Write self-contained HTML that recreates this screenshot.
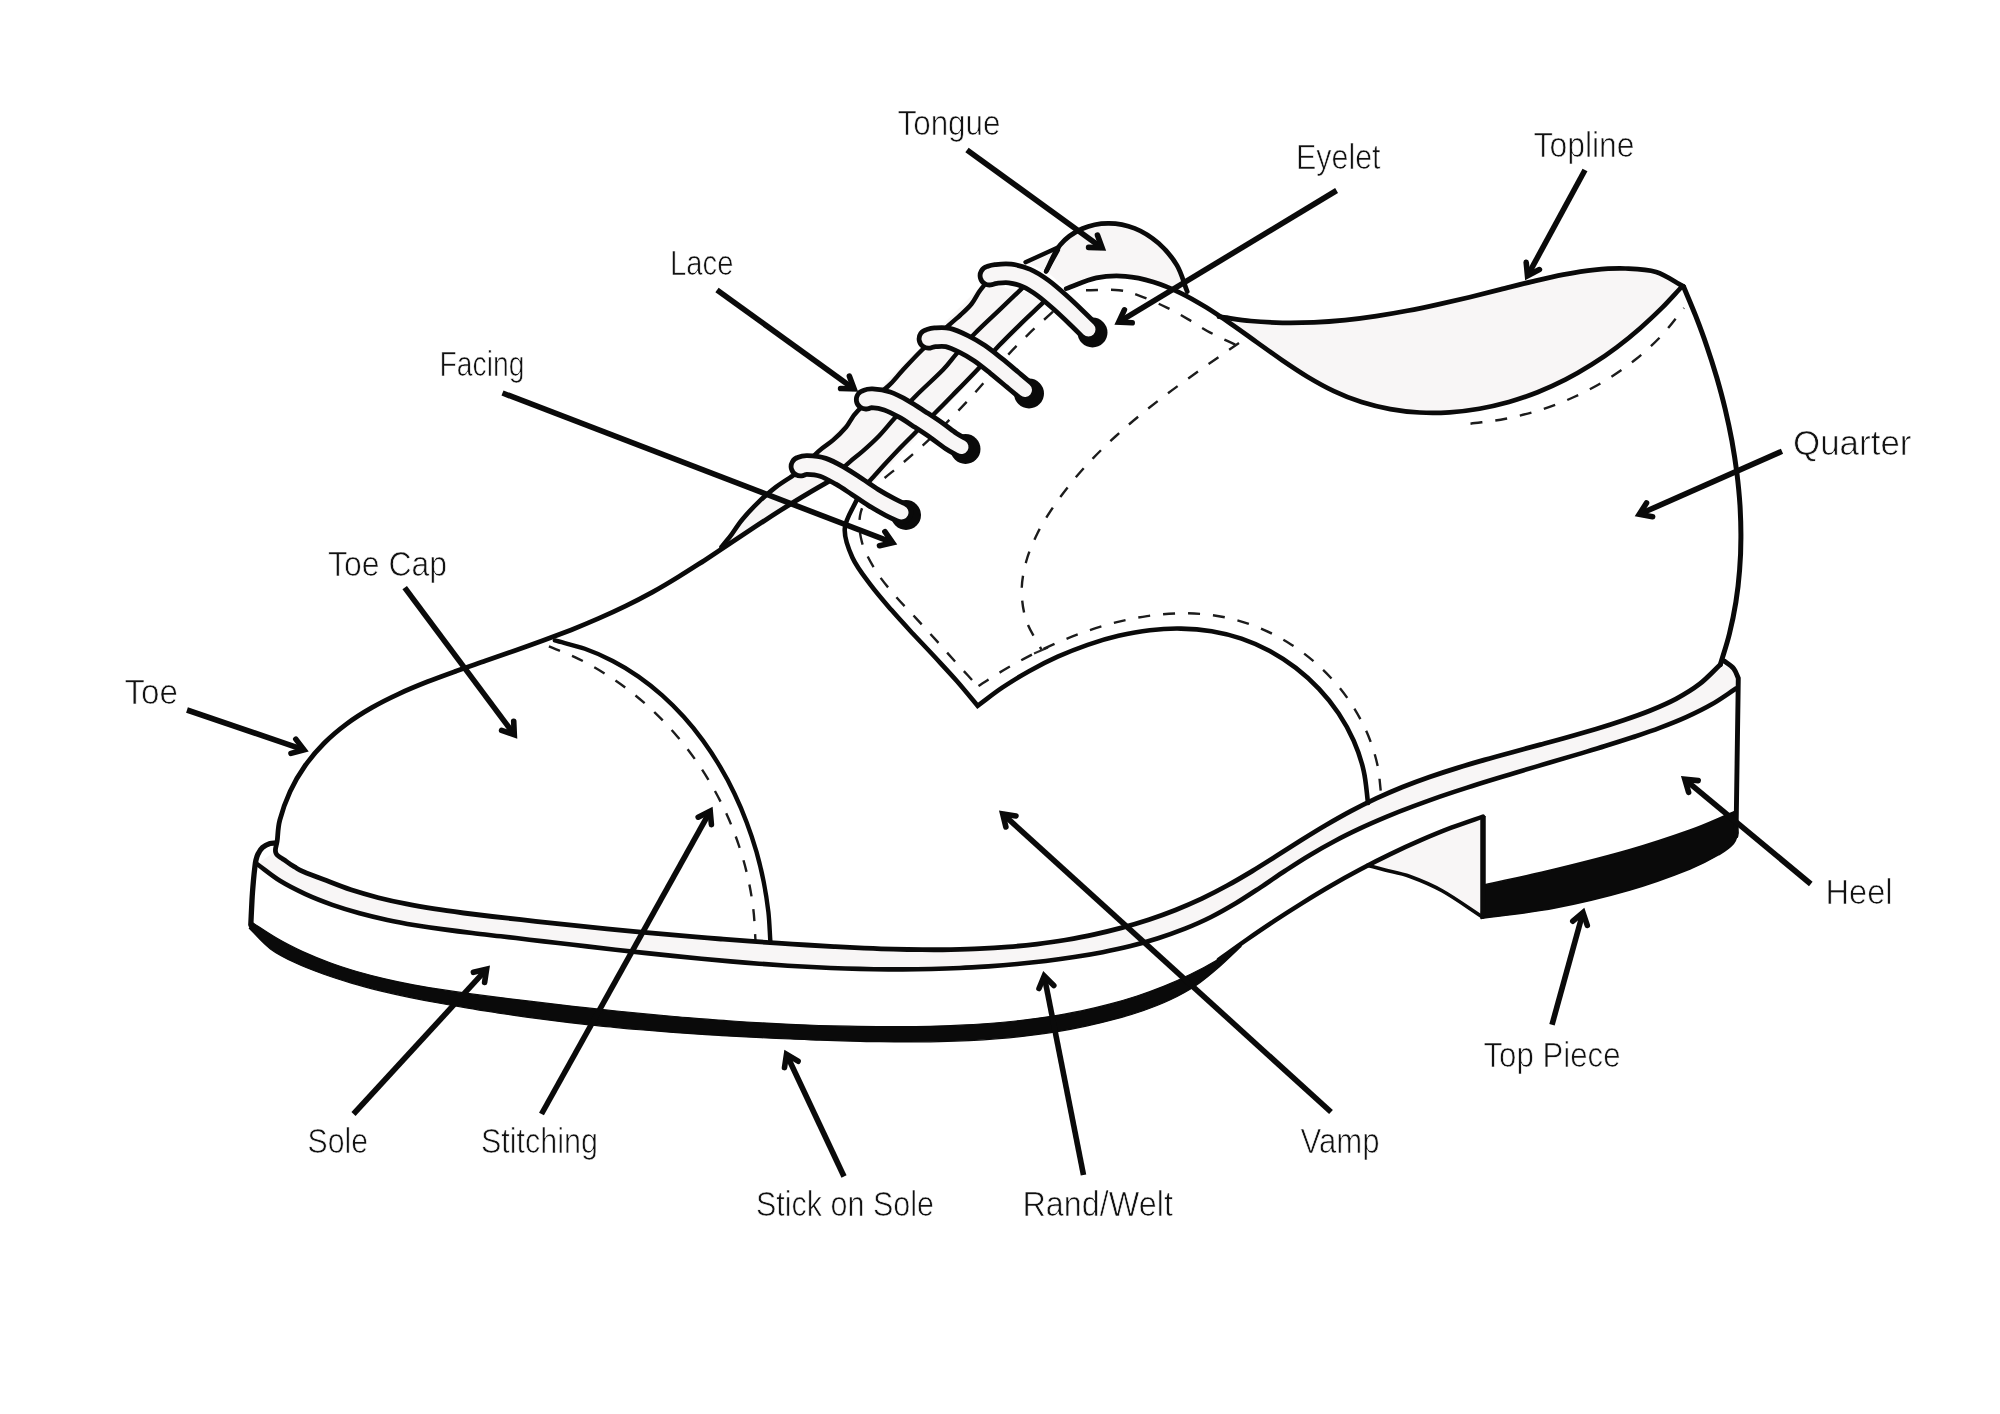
<!DOCTYPE html>
<html lang="en"><head><meta charset="utf-8"><title>Shoe anatomy</title>
<style>
html,body{margin:0;padding:0;background:#fff}
body{width:2000px;height:1414px;overflow:hidden}
svg{display:block}
text{font-family:"Liberation Sans",sans-serif;font-size:34.5px;fill:#111;stroke:#fff;stroke-width:0.7px;paint-order:fill stroke}
</style></head><body>
<svg width="2000" height="1414" viewBox="0 0 2000 1414">
<rect width="2000" height="1414" fill="#fff"/>
<path d="M1219 316.7C1229.6 318.1 1240.3 320 1250.8 321C1261.4 322 1271.9 322.5 1282.4 322.8C1292.9 323 1303.4 322.8 1313.8 322.4C1324.3 321.9 1334.7 321.1 1345.1 320.1C1355.5 319 1365.8 317.7 1376.2 316.1C1386.6 314.6 1396.9 312.8 1407.3 310.8C1417.7 308.9 1428 306.7 1438.4 304.4C1448.7 302.1 1459.1 299.7 1469.5 297.2C1479.9 294.7 1490.3 292.1 1500.7 289.4C1511.1 286.8 1521.5 284 1532 281.6C1542.4 279.1 1552.9 276.5 1563.3 274.6C1573.7 272.6 1584.1 270.8 1594.5 269.8C1604.9 268.8 1615.2 268.1 1625.5 268.5C1635.8 268.9 1646.5 269 1656.1 272C1665.8 275 1674.4 281.7 1683.5 286.5L1682.5 286L1662.2 307.7L1640.2 328.2L1616.7 347.3L1591.7 364.6L1565.3 379.7L1537.6 392.3L1508.9 402L1479.4 408.7L1449.6 412.3L1419.7 412.5L1390.3 409.1L1361.5 402.1L1333.9 391.1L1307.4 376.7L1281.8 360L1256.6 342.1L1231.5 324.2Z" fill="#f8f6f6" stroke="none" stroke-width="0" />
<path d="M1046.4 271C1051 262.2 1054.3 251.7 1060.3 244.7C1066.2 237.6 1074.1 232.3 1082.1 228.7C1090 225.2 1099.3 223.3 1108.1 223.3C1116.9 223.2 1126.3 225 1134.7 228.4C1143.1 231.7 1151.5 237.2 1158.6 243.3C1165.6 249.5 1172.2 257.3 1177 265.4C1181.7 273.4 1183.8 282.8 1187.2 291.5L1163 284.2L1141 277.6L1113.5 274.8L1086 279.8L1066.2 288.6Z" fill="#f8f6f6" stroke="none" stroke-width="0" />
<path d="M1025.5 262.2L1058.5 247.3L1046 271Z" fill="#f8f6f6" stroke="none" stroke-width="0" />
<path d="M984 283L1050 298L870 486L792 477Z" fill="#f8f6f6" stroke="none" stroke-width="0" />
<path d="M721.5 547L726 541.5L731.5 534.6L742.5 519.2L759 501.6L775.5 487.3L792 476.3L833 479L825 484L808.5 495L792 504.9L770 517L753.5 526.9L737 537.9L720.5 547.8Z" fill="#f8f6f6" stroke="none" stroke-width="0" />
<path d="M275 851.5C283 856.8 290.7 862.6 298.9 867.3C307.1 872 315.7 876.1 324.4 879.8C333.1 883.6 342 886.8 351 889.8C360 892.7 369.2 895.3 378.4 897.7C387.6 900 397 902.1 406.4 903.9C415.8 905.8 425.3 907.4 434.9 908.9C444.4 910.4 454 911.7 463.6 913C473.2 914.2 482.8 915.3 492.4 916.5C502 917.6 511.6 918.7 521.2 919.7C530.8 920.8 540.3 921.8 549.9 922.9C559.4 923.9 569 924.9 578.5 925.9C588 926.9 597.5 927.9 607 928.8C616.5 929.8 626 930.7 635.5 931.6C645 932.5 654.5 933.4 664 934.2C673.5 935.1 683 935.9 692.5 936.7C702 937.5 711.4 938.3 720.9 939C730.4 939.8 739.9 940.5 749.5 941.2C759 941.9 768.5 942.6 778 943.2C787.6 943.9 797.1 944.5 806.7 945C816.2 945.6 825.8 946.2 835.4 946.7C845 947.2 854.6 947.7 864.2 948.1C873.8 948.5 883.5 948.9 893.1 949.1C902.7 949.4 912.4 949.6 922 949.7C931.6 949.8 941.3 949.8 950.9 949.6C960.5 949.4 970.1 949.2 979.7 948.7C989.3 948.3 998.9 947.7 1008.4 946.9C1018 946.2 1027.5 945.2 1037 944.1C1046.5 942.9 1055.9 941.6 1065.4 940C1074.8 938.4 1084.2 936.7 1093.5 934.6C1102.8 932.6 1112.1 930.4 1121.3 927.9C1130.5 925.4 1139.7 922.6 1148.7 919.7C1157.7 916.7 1166.7 913.4 1175.6 909.9C1184.4 906.4 1193.2 902.6 1201.8 898.6C1210.4 894.5 1218.9 890.1 1227.3 885.5C1235.7 881 1244 876 1252.2 871.1C1260.4 866.1 1268.6 860.9 1276.7 855.8C1284.9 850.6 1293 845.4 1301.1 840.3C1309.3 835.2 1317.5 830.1 1325.7 825.3C1334 820.5 1342.3 815.7 1350.8 811.2C1359.2 806.7 1367.7 802.4 1376.3 798.4C1385 794.4 1393.7 790.6 1402.6 787C1411.5 783.5 1420.4 780.2 1429.5 777C1438.5 773.9 1447.7 770.9 1456.8 768.1C1466 765.2 1475.3 762.5 1484.5 759.9C1493.8 757.2 1503.1 754.7 1512.4 752.2C1521.7 749.6 1531.1 747.1 1540.4 744.6C1549.7 742.1 1559.1 739.6 1568.3 737C1577.6 734.4 1586.9 731.7 1596.1 729C1605.3 726.2 1614.4 723.3 1623.5 720.2C1632.5 717.2 1641.6 714.1 1650.4 710.5C1659.1 706.9 1667.8 703.2 1676.1 698.8C1684.3 694.4 1692.3 689.6 1699.7 683.9C1707.1 678.2 1713.5 671 1720.4 664.5L1733 669L1738 679L1736 688.5L1711.8 704.3L1686.2 717.2L1659.7 727.9L1632.6 737.3L1605.1 746L1577.6 754.4L1549.9 762.5L1522.3 770.7L1494.7 779L1467.2 787.6L1439.9 796.6L1413 806.4L1386.3 816.9L1360.1 828.4L1334.4 841.2L1309.3 855.4L1284.8 871L1260.6 887.3L1236.2 903L1211.1 917L1185 928.7L1158.1 938.2L1130.6 946L1102.6 952.2L1074.2 957.1L1045.7 961L1017.2 964L988.6 966.4L960 968L931.3 969L902.7 969.4L874 969.2L845.3 968.5L816.6 967.3L787.8 965.7L759.1 963.7L730.4 961.4L701.6 958.8L672.9 955.9L644.2 952.9L615.5 949.7L586.8 946.4L558.1 943L529.4 939.7L500.8 936.3L472.2 933L443.7 929.4L415.4 925.2L387.3 919.9L359.6 913.2L332.3 904.8L305.5 894.1L280 880.8L257 864Z" fill="#f8f6f6" stroke="none" stroke-width="0" />
<path d="M1367.6 865.4L1483 816.5L1483 917L1482.5 917L1442.5 891L1410 876.5L1385 870L1367.6 865.4Z" fill="#f8f6f6" stroke="none" stroke-width="0" />
<path d="M252.3 922.5C260.5 927.8 268.6 933.5 277 938.3C285.4 943.2 294 947.5 302.7 951.6C311.5 955.6 320.4 959.2 329.4 962.5C338.4 965.9 347.6 968.8 356.8 971.5C366.1 974.2 375.4 976.6 384.9 978.8C394.3 981 403.8 983 413.4 984.8C423 986.6 432.6 988.2 442.3 989.7C452 991.2 461.7 992.6 471.4 993.9C481.1 995.2 490.8 996.4 500.5 997.6C510.2 998.8 519.9 1000 529.6 1001.2C539.3 1002.4 549 1003.5 558.6 1004.6C568.3 1005.8 578 1006.9 587.6 1007.9C597.2 1009 606.9 1010 616.5 1011C626.2 1012 635.8 1013 645.4 1013.9C655.1 1014.8 664.7 1015.7 674.3 1016.5C683.9 1017.4 693.6 1018.1 703.2 1018.9C712.8 1019.6 722.5 1020.4 732.1 1021C741.7 1021.7 751.4 1022.3 761 1022.8C770.7 1023.4 780.3 1023.9 790 1024.3C799.7 1024.7 809.4 1025.1 819 1025.5C828.7 1025.8 838.4 1026 848.1 1026.2C857.9 1026.4 867.6 1026.6 877.3 1026.6C887.1 1026.7 896.9 1026.7 906.6 1026.6C916.4 1026.5 926.2 1026.4 936 1026.1C945.8 1025.8 955.6 1025.4 965.4 1024.9C975.1 1024.4 984.9 1023.8 994.6 1023C1004.4 1022.2 1014.1 1021.2 1023.7 1020.1C1033.4 1018.9 1043.1 1017.6 1052.6 1016.1C1062.2 1014.6 1071.7 1012.8 1081.2 1010.9C1090.6 1008.9 1100.1 1006.7 1109.4 1004.2C1118.7 1001.7 1127.9 999 1137.1 996C1146.2 993 1155.3 989.7 1164.2 986.1C1173.1 982.5 1181.9 978.6 1190.6 974.3C1199.3 970 1207.9 965.4 1216.3 960.4C1224.6 955.5 1232.8 949.8 1241 944.5L1241 946.5C1233.7 953.3 1226.6 960.5 1219.1 967C1211.6 973.5 1204 980 1195.9 985.5C1187.7 991 1179.1 995.6 1170.3 999.8C1161.5 1004 1152.2 1007.5 1143 1010.7C1133.7 1013.9 1124.3 1016.7 1114.8 1019.2C1105.3 1021.8 1095.8 1024.1 1086.2 1026.1C1076.7 1028.2 1067 1030 1057.4 1031.6C1047.7 1033.2 1038 1034.5 1028.2 1035.7C1018.4 1036.9 1008.6 1037.8 998.8 1038.6C989 1039.4 979.1 1040.1 969.2 1040.6C959.4 1041.1 949.5 1041.4 939.5 1041.6C929.6 1041.9 919.7 1041.9 909.8 1042C899.8 1042 889.9 1041.9 879.9 1041.7C870 1041.6 860.1 1041.3 850.1 1041.1C840.2 1040.8 830.3 1040.5 820.4 1040.2C810.5 1039.8 800.6 1039.5 790.7 1039C780.8 1038.6 771 1038.2 761.1 1037.7C751.3 1037.3 741.4 1036.8 731.6 1036.2C721.8 1035.6 712 1035.1 702.2 1034.4C692.4 1033.8 682.6 1033.1 672.8 1032.4C663 1031.6 653.2 1030.8 643.4 1030C633.7 1029.2 623.9 1028.3 614.1 1027.3C604.3 1026.4 594.6 1025.3 584.8 1024.3C575.1 1023.2 565.3 1022.1 555.6 1020.9C545.8 1019.7 536.1 1018.4 526.3 1017.1C516.5 1015.7 506.8 1014.3 497 1012.8C487.3 1011.3 477.5 1009.8 467.8 1008.1C458 1006.5 448.2 1004.8 438.5 1003C428.7 1001.2 418.9 999.3 409.2 997.3C399.5 995.3 389.7 993.1 380.1 990.8C370.4 988.4 360.8 985.9 351.3 983.1C341.9 980.3 332.4 977.3 323.2 974C313.9 970.6 304.6 967.2 295.8 963C287 958.9 278.1 954.7 270.4 948.9C262.6 943.1 256.3 935.2 249.3 928.4Z" fill="#0a0a0a" stroke="#0a0a0a" stroke-width="1.2" stroke-linejoin="round"/>
<path d="M1484 885C1507.7 879.7 1530.7 874.9 1555 869C1579.3 863.1 1607.5 856 1630 849.5C1652.5 843 1674.5 835.5 1690 830C1705.5 824.5 1715.3 819.7 1723 816.5C1730.7 813.3 1731.7 812.8 1736 811L1738 833C1736.5 836.5 1736.5 840 1733.5 843.5C1730.5 847 1727.2 849.8 1720 854C1712.8 858.2 1705 863 1690 869C1675 875 1652.5 883.5 1630 890C1607.5 896.5 1579.8 903.2 1555 908C1530.2 912.8 1505.7 915 1481 918.5Z" fill="#0a0a0a" stroke="#0a0a0a" stroke-width="1.5" stroke-linejoin="round"/>
<path d="M554.9 640.4C564.9 643.2 575.2 645.4 584.8 648.8C594.5 652.2 603.8 656.3 612.7 661C621.7 665.6 630.3 670.9 638.5 676.6C646.8 682.4 654.7 688.7 662.2 695.4C669.7 702.1 676.9 709.3 683.7 716.8C690.5 724.3 696.9 732.3 703 740.6C709 748.9 714.7 757.5 719.9 766.4C725.2 775.2 730.1 784.4 734.5 793.7C739 803.1 743.1 812.7 746.7 822.4C750.4 832.1 753.6 842 756.5 851.9C759.3 861.8 761.7 871.9 763.7 881.9C765.7 891.9 767.2 902 768.4 912.1C769.5 922.1 769.7 932 770.4 942" fill="none" stroke="#0a0a0a" stroke-width="4.4" stroke-linecap="round" stroke-linejoin="round"/>
<path d="M548.9 646.3C558.7 650.5 568.8 654.1 578.4 658.8C587.9 663.5 597.2 668.7 606.1 674.4C615.1 680 623.7 686.2 632 692.7C640.3 699.2 648.3 706.2 655.9 713.6C663.4 720.9 670.7 728.7 677.5 736.7C684.4 744.8 690.8 753.2 696.9 761.9C702.9 770.6 708.6 779.6 713.7 788.8C718.9 798.1 723.7 807.6 728 817.3C732.3 827 736.1 836.9 739.4 847C742.7 857 745.6 867.3 747.9 877.7C750.2 888 752.1 898.5 753.3 909.1C754.6 919.6 754.8 930.4 755.5 941" fill="none" stroke="#1c1c1c" stroke-width="2.4" stroke-dasharray="12 13"/>
<path d="M833 479C824.3 484 815.5 488.9 806.9 494.1C798.2 499.2 789.6 504.6 781 510C772.5 515.4 763.9 521 755.4 526.6C746.9 532.2 738.4 537.9 729.9 543.5C721.4 549.1 712.9 554.8 704.4 560.4C695.8 565.9 687.3 571.5 678.6 576.7C670 582 661.3 587.2 652.5 592.1C643.7 596.9 634.9 601.5 625.9 605.9C616.9 610.3 607.9 614.4 598.7 618.4C589.6 622.4 580.4 626.2 571.1 629.9C561.8 633.5 552.4 637 543 640.5C533.5 644 524 647.4 514.5 650.7C504.9 654.1 495.3 657.4 485.6 660.8C475.9 664.2 466.1 667.5 456.4 671C446.7 674.5 436.9 678 427.3 681.8C417.7 685.6 408.1 689.5 398.9 693.8C389.6 698.1 380.5 702.6 371.8 707.6C363.1 712.6 354.6 717.9 346.7 723.8C338.8 729.7 331.2 736 324.3 743C317.4 749.9 310.9 757.5 305.2 765.5C299.5 773.6 294.3 782.3 290.1 791.4C285.9 800.5 281.9 812.1 279.8 820.2C277.7 828.3 277.9 835.8 277.3 840C276.7 844.2 276.5 844 276.2 845.5C275.9 847 275.6 847.9 275.5 849C275.4 850.1 275.4 851.1 275.6 852C275.8 852.9 276.2 853.8 276.8 854.6C277.4 855.4 278.2 855.9 279.2 856.6C280.1 857.3 281.4 858 282.5 858.8C283.6 859.6 284.8 860.3 286 861.2C287.2 862.1 288.3 862.9 290 864C291.7 865.1 293.8 866.5 296 867.7C298.2 869 298.3 869.5 303 871.5C307.7 873.5 316.4 876.8 324.4 879.8C332.4 882.9 342 886.8 351 889.8C360 892.7 369.2 895.3 378.4 897.7C387.6 900 397 902.1 406.4 903.9C415.8 905.8 425.3 907.4 434.9 908.9C444.4 910.4 454 911.7 463.6 913C473.2 914.2 482.8 915.3 492.4 916.5C502 917.6 511.6 918.7 521.2 919.7C530.8 920.8 540.3 921.8 549.9 922.9C559.4 923.9 569 924.9 578.5 925.9C588 926.9 597.5 927.9 607 928.8C616.5 929.8 626 930.7 635.5 931.6C645 932.5 654.5 933.4 664 934.2C673.5 935.1 683 935.9 692.5 936.7C702 937.5 711.4 938.3 720.9 939C730.4 939.8 739.9 940.5 749.5 941.2C759 941.9 768.5 942.6 778 943.2C787.6 943.9 797.1 944.5 806.7 945C816.2 945.6 825.8 946.2 835.4 946.7C845 947.2 854.6 947.7 864.2 948.1C873.8 948.5 883.5 948.9 893.1 949.1C902.7 949.4 912.4 949.6 922 949.7C931.6 949.8 941.3 949.8 950.9 949.6C960.5 949.4 970.1 949.2 979.7 948.7C989.3 948.3 998.9 947.7 1008.4 946.9C1018 946.2 1027.5 945.2 1037 944.1C1046.5 942.9 1055.9 941.6 1065.4 940C1074.8 938.4 1084.2 936.7 1093.5 934.6C1102.8 932.6 1112.1 930.4 1121.3 927.9C1130.5 925.4 1139.7 922.6 1148.7 919.7C1157.7 916.7 1166.7 913.4 1175.6 909.9C1184.4 906.4 1193.2 902.6 1201.8 898.6C1210.4 894.5 1218.9 890.1 1227.3 885.5C1235.7 881 1244 876 1252.2 871.1C1260.4 866.1 1268.6 860.9 1276.7 855.8C1284.9 850.6 1293 845.4 1301.1 840.3C1309.3 835.2 1317.5 830.1 1325.7 825.3C1334 820.5 1342.3 815.7 1350.8 811.2C1359.2 806.7 1367.7 802.4 1376.3 798.4C1385 794.4 1393.7 790.6 1402.6 787C1411.5 783.5 1420.4 780.2 1429.5 777C1438.5 773.9 1447.7 770.9 1456.8 768.1C1466 765.2 1475.3 762.5 1484.5 759.9C1493.8 757.2 1503.1 754.7 1512.4 752.2C1521.7 749.6 1531.1 747.1 1540.4 744.6C1549.7 742.1 1559.1 739.6 1568.3 737C1577.6 734.4 1586.9 731.7 1596.1 729C1605.3 726.2 1614.4 723.3 1623.5 720.2C1632.5 717.2 1641.6 714.1 1650.4 710.5C1659.1 706.9 1667.8 703.2 1676.1 698.8C1684.3 694.4 1692.3 689.6 1699.7 683.9C1707.1 678.2 1713.5 671 1720.4 664.5" fill="none" stroke="#0a0a0a" stroke-width="4.8" stroke-linecap="round" stroke-linejoin="round"/>
<path d="M257 864C264.7 869.6 271.9 875.8 280 880.8C288.1 885.8 296.8 890.1 305.5 894.1C314.2 898.1 323.3 901.6 332.3 904.8C341.3 907.9 350.4 910.7 359.6 913.2C368.8 915.7 378 917.9 387.3 919.9C396.6 921.9 406 923.6 415.4 925.2C424.8 926.7 434.2 928.1 443.7 929.4C453.2 930.7 462.7 931.9 472.2 933C481.7 934.2 491.3 935.2 500.8 936.3C510.3 937.4 519.9 938.5 529.4 939.7C539 940.8 548.5 941.9 558.1 943C567.7 944.2 577.2 945.3 586.8 946.4C596.3 947.5 605.9 948.6 615.5 949.7C625 950.8 634.6 951.8 644.2 952.9C653.8 953.9 663.3 954.9 672.9 955.9C682.5 956.9 692.1 957.9 701.6 958.8C711.2 959.7 720.8 960.6 730.4 961.4C740 962.2 749.5 963 759.1 963.7C768.7 964.4 778.3 965.1 787.8 965.7C797.4 966.3 807 966.8 816.6 967.3C826.1 967.8 835.7 968.2 845.3 968.5C854.9 968.8 864.4 969 874 969.2C883.6 969.3 893.1 969.4 902.7 969.4C912.2 969.3 921.8 969.2 931.3 969C940.9 968.8 950.4 968.5 960 968C969.5 967.6 979.1 967 988.6 966.4C998.1 965.7 1007.7 964.9 1017.2 964C1026.7 963.1 1036.2 962.1 1045.7 961C1055.2 959.8 1064.8 958.5 1074.2 957.1C1083.7 955.6 1093.2 954 1102.6 952.2C1112 950.3 1121.3 948.3 1130.6 946C1139.9 943.7 1149.1 941.1 1158.1 938.2C1167.2 935.4 1176.2 932.2 1185 928.7C1193.8 925.1 1202.6 921.3 1211.1 917C1219.6 912.7 1227.9 907.9 1236.2 903C1244.5 898 1252.5 892.6 1260.6 887.3C1268.7 882 1276.7 876.3 1284.8 871C1292.9 865.7 1301 860.3 1309.3 855.4C1317.5 850.4 1325.9 845.7 1334.4 841.2C1342.8 836.7 1351.4 832.5 1360.1 828.4C1368.7 824.4 1377.5 820.6 1386.3 816.9C1395.1 813.2 1404 809.7 1413 806.4C1421.9 803 1430.9 799.8 1439.9 796.6C1449 793.5 1458.1 790.5 1467.2 787.6C1476.3 784.6 1485.5 781.8 1494.7 779C1503.8 776.2 1513 773.4 1522.3 770.7C1531.5 767.9 1540.7 765.3 1549.9 762.5C1559.1 759.8 1568.3 757.1 1577.6 754.4C1586.8 751.6 1596 748.9 1605.1 746C1614.3 743.2 1623.5 740.3 1632.6 737.3C1641.6 734.3 1650.8 731.3 1659.7 727.9C1668.6 724.6 1677.6 721.1 1686.2 717.2C1694.9 713.2 1703.5 709.1 1711.8 704.3C1720.1 699.5 1727.9 693.8 1736 688.5" fill="none" stroke="#0a0a0a" stroke-width="4.6" stroke-linecap="round" stroke-linejoin="round"/>
<path d="M276 843C274 843.2 272.2 842.8 270 843.5C267.8 844.2 264.5 845.8 262.5 847.5C260.5 849.2 259.1 851.9 258 854C256.9 856.1 256.5 858 256 860C255.5 862 255.4 862.7 255 866C254.6 869.3 254 874.3 253.5 880C253 885.7 252.4 892.5 252 900C251.6 907.5 251.2 916.7 250.8 925" fill="none" stroke="#0a0a0a" stroke-width="5.3" stroke-linecap="round" stroke-linejoin="round"/>
<path d="M1724.2 661C1725.8 662.3 1731.5 665.8 1733.8 668.7C1736.1 671.6 1737.5 676.6 1738.3 678.2L1738 700L1736 836" fill="none" stroke="#0a0a0a" stroke-width="4.9" stroke-linecap="round" stroke-linejoin="round"/>
<path d="M1219 959.5C1228.1 953 1237.1 946.4 1246.3 940C1255.5 933.6 1264.7 927.3 1274 921.2C1283.3 915 1292.7 909 1302.2 903.1C1311.7 897.2 1321.2 891.4 1330.9 885.8C1340.5 880.2 1350.3 874.8 1360.1 869.6C1369.9 864.3 1379.8 859.2 1389.9 854.4C1399.9 849.5 1410 844.8 1420.3 840.4C1430.5 836 1440.8 831.7 1451.3 827.7C1461.7 823.8 1472.4 820.2 1483 816.5" fill="none" stroke="#0a0a0a" stroke-width="4.5" stroke-linecap="round" stroke-linejoin="round"/>
<path d="M1483 816L1483 917" fill="none" stroke="#0a0a0a" stroke-width="5.5" stroke-linecap="butt"/>
<path d="M1367.6 865.4C1373.4 866.9 1377.9 868.1 1385 870C1392.1 871.9 1400.4 873 1410 876.5C1419.6 880 1430.4 884.2 1442.5 891C1454.6 897.8 1469.2 908.3 1482.5 917" fill="none" stroke="#0a0a0a" stroke-width="3.7" stroke-linecap="round" stroke-linejoin="round"/>
<path d="M1683.5 286.5C1687.6 296.3 1691.8 306 1695.7 315.9C1699.6 325.9 1703.4 336 1706.8 346.2C1710.3 356.4 1713.6 366.8 1716.7 377.2C1719.7 387.6 1722.6 398.2 1725.1 408.8C1727.6 419.4 1729.9 430 1731.9 440.7C1733.8 451.4 1735.5 462.2 1736.9 473C1738.2 483.8 1739.3 494.6 1740 505.4C1740.6 516.2 1741 527 1740.9 537.8C1740.9 548.6 1740.5 559.3 1739.6 570C1738.8 580.7 1737.6 591.4 1735.9 602C1734.2 612.6 1732.1 623.1 1729.5 633.5C1727 643.9 1723.4 654.2 1720.4 664.5" fill="none" stroke="#0a0a0a" stroke-width="5" stroke-linecap="round" stroke-linejoin="round"/>
<path d="M1219 316.7C1229.6 318.1 1240.3 320 1250.8 321C1261.4 322 1271.9 322.5 1282.4 322.8C1292.9 323 1303.4 322.8 1313.8 322.4C1324.3 321.9 1334.7 321.1 1345.1 320.1C1355.5 319 1365.8 317.7 1376.2 316.1C1386.6 314.6 1396.9 312.8 1407.3 310.8C1417.7 308.9 1428 306.7 1438.4 304.4C1448.7 302.1 1459.1 299.7 1469.5 297.2C1479.9 294.7 1490.3 292.1 1500.7 289.4C1511.1 286.8 1521.5 284 1532 281.6C1542.4 279.1 1552.9 276.5 1563.3 274.6C1573.7 272.6 1584.1 270.8 1594.5 269.8C1604.9 268.8 1615.2 268.1 1625.5 268.5C1635.8 268.9 1646.5 269 1656.1 272C1665.8 275 1674.4 281.7 1683.5 286.5" fill="none" stroke="#0a0a0a" stroke-width="4.7" stroke-linecap="round" stroke-linejoin="round"/>
<path d="M1066.2 288.6C1076.3 285 1086.6 280 1096.4 277.9C1106.3 275.9 1116 275.6 1125.4 276.3C1134.9 276.9 1144.2 279.1 1153.3 281.9C1162.4 284.6 1171.4 288.5 1180.2 292.8C1189 297 1197.6 302.1 1206.1 307.3C1214.7 312.6 1223.1 318.4 1231.5 324.2C1239.9 329.9 1248.2 336.1 1256.6 342.1C1265 348.1 1273.3 354.2 1281.8 360C1290.3 365.8 1298.8 371.6 1307.4 376.7C1316.1 381.9 1324.9 386.9 1333.9 391.1C1342.9 395.4 1352.1 399.1 1361.5 402.1C1370.9 405.1 1380.6 407.4 1390.3 409.1C1400 410.9 1409.8 412 1419.7 412.5C1429.6 413 1439.6 412.9 1449.6 412.3C1459.5 411.7 1469.5 410.4 1479.4 408.7C1489.3 407 1499.2 404.7 1508.9 402C1518.6 399.2 1528.2 396 1537.6 392.3C1547 388.5 1556.3 384.3 1565.3 379.7C1574.3 375.1 1583.1 370 1591.7 364.6C1600.2 359.2 1608.6 353.4 1616.7 347.3C1624.7 341.3 1632.6 334.9 1640.2 328.2C1647.8 321.6 1655.1 314.7 1662.2 307.7C1669.2 300.6 1675.7 293.2 1682.5 286" fill="none" stroke="#0a0a0a" stroke-width="4.7" stroke-linecap="round" stroke-linejoin="round"/>
<path d="M1470.5 423.7C1482.2 422.1 1494 421.1 1505.6 418.8C1517.3 416.5 1529 413.5 1540.4 409.9C1551.7 406.3 1563.1 402 1574 397C1584.9 392.1 1595.6 386.5 1605.8 380.3C1616 374.1 1625.9 367.2 1635.2 359.8C1644.5 352.3 1653.3 344.3 1661.5 335.7C1669.6 327 1676.5 317.2 1684 308" fill="none" stroke="#1c1c1c" stroke-width="2.4" stroke-dasharray="12 13"/>
<path d="M1086 290.2C1097 290.2 1109.8 289.2 1119 290.2C1128.2 291.2 1133.1 293.4 1141 296.3C1148.9 299.2 1158.4 303.5 1166.3 307.3C1174.2 311.1 1181 315.2 1188.3 319.4C1195.6 323.6 1202 328.2 1210.3 332.6C1218.6 337 1228.8 341.5 1238 346" fill="none" stroke="#1c1c1c" stroke-width="2.4" stroke-dasharray="12 13"/>
<path d="M1239 343C1230.6 348.8 1222.1 354.6 1213.7 360.5C1205.2 366.4 1196.7 372.3 1188.3 378.4C1179.9 384.4 1171.5 390.5 1163.3 396.8C1155.1 403.1 1146.9 409.5 1138.9 416.1C1130.9 422.7 1123 429.5 1115.4 436.5C1107.8 443.5 1100.3 450.7 1093.2 458.1C1086 465.6 1079.1 473.3 1072.5 481.3C1065.9 489.4 1059.5 497.7 1053.6 506.4C1047.8 515 1042.1 524 1037.5 533.2C1033 542.4 1028.8 551.9 1026.2 561.5C1023.6 571.1 1021.7 580.9 1021.7 590.7C1021.8 600.6 1023 610.7 1026.3 620.5C1029.6 630.4 1036.4 640 1041.5 649.7" fill="none" stroke="#1c1c1c" stroke-width="2.4" stroke-dasharray="12 13"/>
<path d="M1034 653.500L1048 647.500" stroke="#2a2a2a" stroke-width="2" fill="none"/>
<path d="M857.3 498.7C853.1 508.6 845.6 518.5 844.8 528.4C844 538.2 848.2 548.2 852.5 557.7C856.8 567.1 864.1 576.2 870.6 584.9C877.1 593.6 884.4 601.9 891.5 610.1C898.6 618.3 905.9 626.1 913.2 634C920.5 641.8 927.9 649.5 935.1 657.3C942.4 665.2 949.7 672.9 956.8 681C963.9 689.1 970.7 697.5 977.6 705.8C985.8 699.8 993.6 693.5 1002.2 687.7C1010.8 681.9 1019.8 676.3 1029 671.2C1038.3 666 1047.9 661.1 1057.7 656.7C1067.4 652.3 1077.5 648.3 1087.6 644.8C1097.8 641.3 1108.1 638.2 1118.5 635.8C1128.8 633.4 1139.3 631.4 1149.8 630.2C1160.2 629 1170.7 628.4 1181 628.6C1191.3 628.7 1201.6 629.5 1211.7 631.2C1221.8 632.9 1231.8 635.3 1241.5 638.6C1251.2 641.9 1260.7 646.1 1269.8 651C1278.8 655.9 1287.6 661.6 1295.8 667.9C1304 674.2 1311.9 681.3 1319 688.9C1326.1 696.4 1332.7 704.7 1338.5 713.3C1344.3 722 1349.5 731.3 1353.7 740.8C1357.9 750.4 1361.4 760.5 1363.7 770.9C1366.1 781.3 1366.6 792.3 1368 803" fill="none" stroke="#0a0a0a" stroke-width="4.6" stroke-linecap="round" stroke-linejoin="miter"/>
<path d="M1053 311.7C1045.3 318.7 1037.5 325.5 1030 332.7C1022.6 339.9 1015.2 347.1 1008.2 354.7C1001.2 362.2 994.7 370.3 987.9 378.1C981 385.9 974.2 393.8 967.2 401.4C960.1 408.9 953 416.3 945.7 423.6C938.4 430.9 931.1 437.9 923.4 444.9C915.7 451.9 907.6 458.7 899.6 465.7C891.6 472.6 882.1 479.1 875.6 486.9C869.1 494.7 863 503.4 860.7 512.5C858.4 521.6 859.3 532 861.8 541.6C864.3 551.2 870 561.3 875.5 570.3C881 579.3 888.1 587.4 894.8 595.4C901.5 603.4 908.9 610.5 915.9 618.1C922.9 625.6 929.8 633.2 936.7 640.9C943.7 648.6 950.4 656.4 957.4 664.1C964.4 671.7 971.5 679.4 978.5 687" fill="none" stroke="#1c1c1c" stroke-width="2.4" stroke-dasharray="12 13"/>
<path d="M978.5 686C986.8 680.8 994.8 675.4 1003.4 670.3C1012 665.3 1020.9 660.3 1030 655.6C1039.1 651 1048.5 646.5 1058 642.4C1067.6 638.3 1077.3 634.4 1087.1 631.1C1096.9 627.7 1106.9 624.6 1116.9 622.1C1126.9 619.6 1137 617.5 1147.1 616.1C1157.1 614.6 1167.2 613.7 1177.2 613.4C1187.3 613.1 1197.3 613.4 1207.1 614.5C1216.9 615.6 1226.7 617.4 1236.3 620C1245.9 622.6 1255.3 626 1264.4 630.1C1273.6 634.1 1282.5 639 1291 644.4C1299.4 649.8 1307.6 656 1315.2 662.6C1322.8 669.3 1330.1 676.6 1336.6 684.3C1343.2 692 1349.2 700.2 1354.5 708.8C1359.8 717.5 1364.5 726.6 1368.4 736C1372.2 745.3 1375.3 755.2 1377.5 765.2C1379.6 775.2 1380 785.7 1381.3 796" fill="none" stroke="#1c1c1c" stroke-width="2.4" stroke-dasharray="12 13"/>
<path d="M1046.4 271C1051 262.2 1054.3 251.7 1060.3 244.7C1066.2 237.6 1074.1 232.3 1082.1 228.7C1090 225.2 1099.3 223.3 1108.1 223.3C1116.9 223.2 1126.3 225 1134.7 228.4C1143.1 231.7 1151.5 237.2 1158.6 243.3C1165.6 249.5 1172.2 257.3 1177 265.4C1181.7 273.4 1183.8 282.8 1187.2 291.5" fill="none" stroke="#0a0a0a" stroke-width="4.8" stroke-linecap="round" stroke-linejoin="round"/>
<path d="M1025.500 262.200L1058.500 247.300" fill="none" stroke="#0a0a0a" stroke-width="4.3" stroke-linecap="round" stroke-linejoin="round"/>
<path d="M1058 250L1046 271.500" fill="none" stroke="#0a0a0a" stroke-width="4.3" stroke-linecap="round" stroke-linejoin="round"/>
<path d="M721.5 547C722.2 546.1 724.3 543.6 726 541.5C727.7 539.4 728.8 538.3 731.5 534.6C734.2 530.9 737.9 524.7 742.5 519.2C747.1 513.7 753.5 506.9 759 501.6C764.5 496.3 770 491.5 775.5 487.3C781 483.1 789.2 478.1 792 476.3" fill="none" stroke="#0a0a0a" stroke-width="4.6" stroke-linecap="round" stroke-linejoin="round"/>
<path d="M986 283C983.7 286 981.4 288.5 979 292C976.6 295.5 974.6 300.2 971.5 304C968.4 307.8 964.2 311.6 960.5 315C956.8 318.4 955.9 318.9 949.5 324.7C943.1 330.5 929.9 342.3 922 350C914.1 357.7 907.7 364.9 902 371C896.3 377.1 895.1 379.9 887.8 386.5C880.5 393.1 865 403.9 858 410.7C851 417.5 850.2 422.2 846 427.2C841.8 432.1 837.4 436.4 832.8 440.4C828.2 444.4 824.8 445.6 818.5 451.4C812.2 457.2 802.8 467.1 795 475" fill="none" stroke="#0a0a0a" stroke-width="4.5" stroke-linecap="round" stroke-linejoin="round"/>
<path d="M1022 288.4C1014.3 295.7 1006.9 302.9 999 310.4C991.1 317.9 982 326.2 974.8 333.5C967.6 340.8 961.3 348.3 956 354.4C950.7 360.5 949.5 363.1 942.8 370C936.1 376.9 923.9 387.8 916 395.7C908.1 403.6 901.7 410.6 895.5 417.3C889.3 424 884.5 430.3 879 436C873.5 441.7 867.3 447.2 862.5 451.4C857.7 455.6 853.8 458.4 850.4 461.3C847 464.2 844.8 466.4 842 469" fill="none" stroke="#0a0a0a" stroke-width="4.4" stroke-linecap="round" stroke-linejoin="round"/>
<path d="M1043 302.7C1035.7 309.7 1028.3 316.5 1021 323.6C1013.7 330.8 1005.6 338.6 999 345.6C992.4 352.6 989.1 357.2 981.4 365.4C973.7 373.6 959.8 387.8 952.8 395C945.8 402.2 945 402.9 939.5 408.5C934 414.1 926.1 421.9 919.7 428.3C913.3 434.7 906.9 440.9 901 447C895.1 453.1 888.9 459.8 884.5 464.6C880.1 469.4 877.7 472.2 874.6 475.6C871.5 479 868.9 481.9 866 485" fill="none" stroke="#0a0a0a" stroke-width="4.4" stroke-linecap="round" stroke-linejoin="round"/>
<circle cx="1092.5" cy="332.5" r="15" fill="#0a0a0a"/>
<circle cx="1029" cy="393.5" r="15" fill="#0a0a0a"/>
<circle cx="965.5" cy="449" r="15" fill="#0a0a0a"/>
<circle cx="906" cy="515" r="15" fill="#0a0a0a"/>
<path d="M989.5 275.6C990.6 275.3 992.6 274.4 996 274C999.4 273.6 1004.9 272.8 1010 273.5C1015.1 274.2 1021 275.6 1026.5 278C1032 280.4 1037.5 284 1043 288C1048.5 292 1054 296.9 1059.5 301.8C1065 306.7 1071.2 312.6 1076 317.2C1080.8 321.8 1086.4 327.4 1088.5 329.5" fill="none" stroke="#0a0a0a" stroke-width="23.600" stroke-linecap="round"/>
<path d="M989.5 275.6C990.6 275.3 992.6 274.4 996 274C999.4 273.6 1004.9 272.8 1010 273.5C1015.1 274.2 1021 275.6 1026.5 278C1032 280.4 1037.5 284 1043 288C1048.5 292 1054 296.9 1059.5 301.8C1065 306.7 1071.2 312.6 1076 317.2C1080.8 321.8 1086.4 327.4 1088.5 329.5" fill="none" stroke="#f8f6f6" stroke-width="14" stroke-linecap="round"/>
<path d="M928.5 338.8C929.6 338.6 931.8 337.5 935 337.3C938.2 337.1 943 336.4 947.8 337.5C952.6 338.6 958.5 341.4 963.8 344C969.1 346.6 974.3 349.6 979.7 353.3C985.1 357 990.7 361.6 996.2 366C1001.7 370.4 1007.9 375.7 1012.7 379.7C1017.5 383.7 1023 388.3 1025 390" fill="none" stroke="#0a0a0a" stroke-width="23.600" stroke-linecap="round"/>
<path d="M928.5 338.8C929.6 338.6 931.8 337.5 935 337.3C938.2 337.1 943 336.4 947.8 337.5C952.6 338.6 958.5 341.4 963.8 344C969.1 346.6 974.3 349.6 979.7 353.3C985.1 357 990.7 361.6 996.2 366C1001.7 370.4 1007.9 375.7 1012.7 379.7C1017.5 383.7 1023 388.3 1025 390" fill="none" stroke="#f8f6f6" stroke-width="14" stroke-linecap="round"/>
<path d="M865.7 399.6C866.8 399.4 868.4 398.1 872 398.3C875.6 398.5 881.9 399.2 887.2 401C892.5 402.8 898.2 405.9 903.7 409C909.2 412.1 914.7 415.9 920.2 419.5C925.7 423.1 931.6 426.9 936.7 430.5C941.8 434.1 946.9 438.2 951 441C955.1 443.8 959.8 446 961.5 447" fill="none" stroke="#0a0a0a" stroke-width="23.600" stroke-linecap="round"/>
<path d="M865.7 399.6C866.8 399.4 868.4 398.1 872 398.3C875.6 398.5 881.9 399.2 887.2 401C892.5 402.8 898.2 405.9 903.7 409C909.2 412.1 914.7 415.9 920.2 419.5C925.7 423.1 931.6 426.9 936.7 430.5C941.8 434.1 946.9 438.2 951 441C955.1 443.8 959.8 446 961.5 447" fill="none" stroke="#f8f6f6" stroke-width="14" stroke-linecap="round"/>
<path d="M800.5 466.5C801.6 466.2 803.2 464.9 807 465C810.8 465.1 817.4 465.5 823 467.3C828.6 469.1 834.8 472.8 840.5 476C846.2 479.2 851.5 483 857 486.6C862.5 490.2 868 494.2 873.5 497.6C879 501 885.3 504.5 890 507C894.7 509.5 899.6 511.6 901.5 512.5" fill="none" stroke="#0a0a0a" stroke-width="23.600" stroke-linecap="round"/>
<path d="M800.5 466.5C801.6 466.2 803.2 464.9 807 465C810.8 465.1 817.4 465.5 823 467.3C828.6 469.1 834.8 472.8 840.5 476C846.2 479.2 851.5 483 857 486.6C862.5 490.2 868 494.2 873.5 497.6C879 501 885.3 504.5 890 507C894.7 509.5 899.6 511.6 901.5 512.5" fill="none" stroke="#f8f6f6" stroke-width="14" stroke-linecap="round"/>
<path d="M967 150L1102.1 247.9" fill="none" stroke="#0a0a0a" stroke-width="5.6" stroke-linecap="butt"/>
<path d="M1097.5 235.2L1102.1 247.9L1088.6 247.4" fill="none" stroke="#0a0a0a" stroke-width="5.6" stroke-linecap="round" stroke-linejoin="miter"/>
<path d="M1336.6 190.5L1118.7 322.1" fill="none" stroke="#0a0a0a" stroke-width="5.6" stroke-linecap="butt"/>
<path d="M1132.2 322.8L1118.7 322.1L1124.4 309.9" fill="none" stroke="#0a0a0a" stroke-width="5.6" stroke-linecap="round" stroke-linejoin="miter"/>
<path d="M1585 170L1527.5 275.8" fill="none" stroke="#0a0a0a" stroke-width="5.6" stroke-linecap="butt"/>
<path d="M1539.4 269.6L1527.5 275.8L1526.2 262.4" fill="none" stroke="#0a0a0a" stroke-width="5.6" stroke-linecap="round" stroke-linejoin="miter"/>
<path d="M717 290L854.1 388.9" fill="none" stroke="#0a0a0a" stroke-width="5.6" stroke-linecap="butt"/>
<path d="M849.4 376.2L854.1 388.9L840.6 388.5" fill="none" stroke="#0a0a0a" stroke-width="5.6" stroke-linecap="round" stroke-linejoin="miter"/>
<path d="M502.5 393L892.6 542.7" fill="none" stroke="#0a0a0a" stroke-width="5.6" stroke-linecap="butt"/>
<path d="M884.9 531.7L892.6 542.7L879.5 545.7" fill="none" stroke="#0a0a0a" stroke-width="5.6" stroke-linecap="round" stroke-linejoin="miter"/>
<path d="M1782 451.3L1639.3 514.3" fill="none" stroke="#0a0a0a" stroke-width="5.6" stroke-linecap="butt"/>
<path d="M1652.6 516.7L1639.3 514.3L1646.5 502.9" fill="none" stroke="#0a0a0a" stroke-width="5.6" stroke-linecap="round" stroke-linejoin="miter"/>
<path d="M404.7 587.6L514.3 734.7" fill="none" stroke="#0a0a0a" stroke-width="5.6" stroke-linecap="butt"/>
<path d="M513.7 721.2L514.3 734.7L501.6 730.3" fill="none" stroke="#0a0a0a" stroke-width="5.6" stroke-linecap="round" stroke-linejoin="miter"/>
<path d="M187 710L304 749.8" fill="none" stroke="#0a0a0a" stroke-width="5.6" stroke-linecap="butt"/>
<path d="M295.8 739.1L304 749.8L291 753.4" fill="none" stroke="#0a0a0a" stroke-width="5.6" stroke-linecap="round" stroke-linejoin="miter"/>
<path d="M1810.8 884L1684.8 779.3" fill="none" stroke="#0a0a0a" stroke-width="5.6" stroke-linecap="butt"/>
<path d="M1688.6 792.3L1684.8 779.3L1698.2 780.6" fill="none" stroke="#0a0a0a" stroke-width="5.6" stroke-linecap="round" stroke-linejoin="miter"/>
<path d="M1552 1024.8L1583 912.5" fill="none" stroke="#0a0a0a" stroke-width="5.6" stroke-linecap="butt"/>
<path d="M1572.8 921.2L1583 912.5L1587.3 925.3" fill="none" stroke="#0a0a0a" stroke-width="5.6" stroke-linecap="round" stroke-linejoin="miter"/>
<path d="M353.5 1114L486.6 969.2" fill="none" stroke="#0a0a0a" stroke-width="5.6" stroke-linecap="butt"/>
<path d="M473.4 972.3L486.6 969.2L484.6 982.5" fill="none" stroke="#0a0a0a" stroke-width="5.6" stroke-linecap="round" stroke-linejoin="miter"/>
<path d="M541.5 1114L710.2 811.1" fill="none" stroke="#0a0a0a" stroke-width="5.6" stroke-linecap="butt"/>
<path d="M698.2 817.2L710.2 811.1L711.4 824.6" fill="none" stroke="#0a0a0a" stroke-width="5.6" stroke-linecap="round" stroke-linejoin="miter"/>
<path d="M1331 1112L1002.7 813.9" fill="none" stroke="#0a0a0a" stroke-width="5.6" stroke-linecap="butt"/>
<path d="M1005.9 827L1002.7 813.9L1016 815.9" fill="none" stroke="#0a0a0a" stroke-width="5.6" stroke-linecap="round" stroke-linejoin="miter"/>
<path d="M844 1176.5L786.5 1054.3" fill="none" stroke="#0a0a0a" stroke-width="5.6" stroke-linecap="butt"/>
<path d="M784.5 1067.6L786.5 1054.3L798.1 1061.2" fill="none" stroke="#0a0a0a" stroke-width="5.6" stroke-linecap="round" stroke-linejoin="miter"/>
<path d="M1083.5 1175L1044.2 976" fill="none" stroke="#0a0a0a" stroke-width="5.6" stroke-linecap="butt"/>
<path d="M1039 988.5L1044.2 976L1053.8 985.5" fill="none" stroke="#0a0a0a" stroke-width="5.6" stroke-linecap="round" stroke-linejoin="miter"/>
<g style="filter:grayscale(1)">
<text x="897.5" y="134.9" textLength="103" lengthAdjust="spacingAndGlyphs">Tongue</text>
<text x="1296" y="168.5" textLength="84.5" lengthAdjust="spacingAndGlyphs">Eyelet</text>
<text x="1533.5" y="157" textLength="101" lengthAdjust="spacingAndGlyphs">Topline</text>
<text x="670.1" y="274.9" textLength="63.4" lengthAdjust="spacingAndGlyphs">Lace</text>
<text x="439.5" y="375.5" textLength="85" lengthAdjust="spacingAndGlyphs">Facing</text>
<text x="1793" y="454.5" textLength="118.5" lengthAdjust="spacingAndGlyphs">Quarter</text>
<text x="328" y="575.5" textLength="119" lengthAdjust="spacingAndGlyphs">Toe Cap</text>
<text x="124.5" y="703.5" textLength="53.5" lengthAdjust="spacingAndGlyphs">Toe</text>
<text x="1825.5" y="903.5" textLength="67" lengthAdjust="spacingAndGlyphs">Heel</text>
<text x="1483.5" y="1066.5" textLength="137" lengthAdjust="spacingAndGlyphs">Top Piece</text>
<text x="307.5" y="1153" textLength="60.5" lengthAdjust="spacingAndGlyphs">Sole</text>
<text x="481" y="1153" textLength="117" lengthAdjust="spacingAndGlyphs">Stitching</text>
<text x="1300.5" y="1153.3" textLength="79" lengthAdjust="spacingAndGlyphs">Vamp</text>
<text x="756" y="1215.5" textLength="178" lengthAdjust="spacingAndGlyphs">Stick on Sole</text>
<text x="1022.5" y="1215.5" textLength="150.5" lengthAdjust="spacingAndGlyphs">Rand/Welt</text>
</g>
</svg>
</body></html>
